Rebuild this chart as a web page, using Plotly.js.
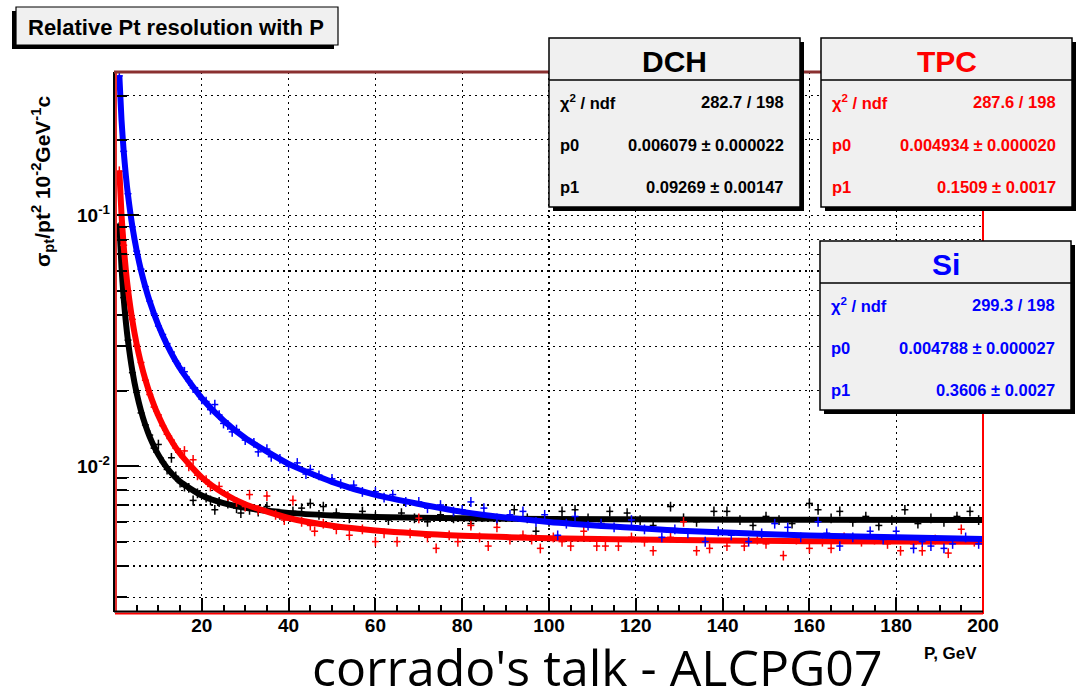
<!DOCTYPE html>
<html>
<head>
<meta charset="utf-8">
<script src="https://cdn.plot.ly/plotly-3.0.1.min.js"></script>
<style>html,body{margin:0;padding:0;background:#fff;}#chart{width:1081px;height:695px;}</style>
</head>
<body>
<div id="chart"></div>
<script>
// ---------------- DATA ----------------
// Fit curves
const fitP   = [1, 1.5, 2, 2.5, 3, 4, 5, 6, 7, 8, 10, 12, 15, 20, 25, 30, 40, 50, 60, 80, 100, 130, 160, 200];
const fitDCH = [0.0929, 0.0621, 0.04675, 0.03757, 0.0315, 0.02396, 0.01951, 0.0166, 0.01457, 0.01309, 0.01109, 0.00983, 0.00867, 0.00764, 0.00712, 0.00682, 0.00651, 0.00636, 0.00627, 0.00619, 0.00615, 0.00612, 0.00611, 0.0061];
const fitTPC = [0.151, 0.1007, 0.07561, 0.06056, 0.05054, 0.03805, 0.03058, 0.02563, 0.02212, 0.0195, 0.01587, 0.01351, 0.0112, 0.00901, 0.0078, 0.00705, 0.00621, 0.00578, 0.00554, 0.00528, 0.00516, 0.00507, 0.00502, 0.00499];
const fitSi  = [0.3606, 0.2404, 0.1804, 0.1443, 0.1203, 0.09028, 0.07228, 0.06029, 0.05174, 0.04533, 0.03638, 0.03043, 0.02451, 0.01866, 0.0152, 0.01294, 0.01021, 0.00866, 0.00768, 0.00657, 0.00599, 0.00553, 0.00529, 0.00512];

// Measured points (P in GeV, relative resolution)
const dchP = [1,2,3,4,5,6,7,8,9,10,11,12,13,14,15,16,17,18,19,21,22,23,24,26,28,29,31,33,35,38,41,43,45,47,48,51,54,57,60,63,66,69,72,75,78,82,85,88,92,95,97,100,103,106,109,112,114,118,121,124,128,131,134,138,141,144,147,150,153,156,160,162,165,167,170,173,176,179,182,185,188,191,194,197,199];
const dchV = [0.090,0.047,0.0318,0.0236,0.0197,0.0163,0.0146,0.0133,0.0118,0.0122,0.0104,0.0097,0.0108,0.0091,0.0086,0.0083,0.0082,0.0073,0.0078,0.0075,0.0073,0.0067,0.0072,0.0071,0.0068,0.0065,0.0067,0.0066,0.0069,0.0064,0.0066,0.0068,0.0071,0.0064,0.0069,0.0065,0.0062,0.0066,0.0063,0.0061,0.0065,0.0062,0.0060,0.0064,0.0062,0.0059,0.0063,0.0061,0.0067,0.0062,0.0055,0.0060,0.0066,0.0067,0.0062,0.0059,0.0066,0.0065,0.0061,0.0058,0.0069,0.0062,0.0060,0.0066,0.0066,0.0061,0.0058,0.0063,0.0061,0.0059,0.0071,0.0067,0.0062,0.0066,0.0060,0.0063,0.0058,0.0061,0.0067,0.0059,0.0062,0.0060,0.0063,0.0066,0.0061];

const tpcP = [1,2,3,4,5,6,7,8,9,10,11,12,13,14,15,16,17,18,19,21,22,24,26,28,30,31,33,35,37,39,41,43,45,46,48,51,54,57,60,62,65,68,70,72,74,77,79,82,84,86,88,91,94,96,98,101,103,105,108,111,113,116,119,122,124,128,131,134,137,141,145,148,150,154,157,160,163,165,168,172,175,178,181,184,186,189,192,195,198];
const tpcV = [0.150,0.076,0.050,0.0385,0.0303,0.0259,0.0220,0.0193,0.0172,0.0160,0.0145,0.0134,0.0127,0.0118,0.0113,0.0115,0.0100,0.0106,0.0092,0.0088,0.0083,0.0083,0.0076,0.0072,0.0069,0.0077,0.0067,0.0076,0.0064,0.0061,0.0073,0.0060,0.0058,0.0055,0.0059,0.0056,0.0053,0.0056,0.0050,0.0054,0.0050,0.0054,0.0062,0.0052,0.0047,0.0053,0.0050,0.0058,0.0052,0.0048,0.0057,0.0051,0.0053,0.0051,0.0047,0.0052,0.0050,0.0048,0.0055,0.0048,0.0048,0.0048,0.0052,0.0050,0.0046,0.0052,0.0060,0.0046,0.0047,0.0048,0.0048,0.0051,0.0049,0.0044,0.0051,0.0047,0.0050,0.0047,0.0052,0.0050,0.0051,0.0049,0.0046,0.0049,0.0046,0.0051,0.0045,0.0056,0.0050];

const siP = [1,2,3,4,5,6,7,8,9,10,11,12,13,14,15,16,17,18,19,20,21,22,23,24,25,26,27,28,30,32,33,35,36,38,40,42,44,45,47,50,52,55,57,60,62,64,67,70,72,75,78,80,82,85,88,91,94,97,99,102,104,106,109,112,115,119,122,126,129,132,136,139,142,146,149,152,155,158,162,164,167,170,174,177,180,184,186,188,191,193,196,199];
const siV = [0.360,0.180,0.122,0.090,0.072,0.061,0.052,0.0455,0.0405,0.0362,0.0335,0.0308,0.0285,0.0262,0.0247,0.0238,0.0219,0.0205,0.0198,0.0185,0.0181,0.0168,0.0176,0.0160,0.0148,0.0146,0.0137,0.0140,0.0127,0.0124,0.0114,0.0117,0.0109,0.0107,0.0100,0.0103,0.0093,0.0097,0.0092,0.0089,0.0085,0.0084,0.0079,0.0079,0.0075,0.0077,0.0072,0.0072,0.0068,0.0070,0.0066,0.0067,0.0072,0.0068,0.0062,0.0064,0.0066,0.0060,0.0064,0.0053,0.0059,0.0063,0.0058,0.0059,0.0057,0.0061,0.0056,0.0052,0.0056,0.0054,0.0050,0.0055,0.0053,0.0050,0.0054,0.0059,0.0057,0.0052,0.0060,0.0054,0.0048,0.0052,0.0055,0.0051,0.0055,0.0047,0.0050,0.0048,0.0047,0.0049,0.0052,0.0049];

// Tick labels
const xTickVals = [20, 40, 60, 80, 100, 120, 140, 160, 180, 200];
const yTickVals = [0.01, 0.1];
const yTickText = ['10<sup>-2</sup>', '10<sup>-1</sup>'];
const yMinorVals = [0.003,0.004,0.005,0.006,0.007,0.008,0.009,0.02,0.03,0.04,0.05,0.06,0.07,0.08,0.09,0.2,0.3];

// Stats boxes
const boxNames  = ['DCH', 'TPC', 'Si'];
const boxChi2   = ['282.7 / 198', '287.6 / 198', '299.3 / 198'];
const boxP0     = ['0.006079 ± 0.000022', '0.004934 ± 0.000020', '0.004788 ± 0.000027'];
const boxP1     = ['0.09269 ± 0.00147', '0.1509 ± 0.0017', '0.3606 ± 0.0027'];
const boxColors = ['#000000', '#ff0000', '#0000ff'];

// ---------------- LAYOUT HELPERS ----------------
const L = 115, R = 983, T = 72, B = 612;
const px = x => (x - L) / (R - L);
const py = y => (B - y) / (B - T);
const FB = 'Liberation Sans, Arial, Helvetica, sans-serif';

function ptsTrace(P, V, color) {
  return {
    x: P, y: V, type: 'scatter', mode: 'markers', showlegend: false, hoverinfo: 'skip',
    marker: {size: 2, color: color},
    error_y: {type: 'percent', value: 4.5, color: color, thickness: 1.5, width: 0},
    error_x: {type: 'constant', value: 0.8, color: color, thickness: 1.5, width: 0}
  };
}
function fitTrace(P, V, color) {
  return {
    x: P, y: V, type: 'scatter', mode: 'lines', showlegend: false, hoverinfo: 'skip',
    line: {color: color, width: 6, shape: 'spline', smoothing: 0.6}
  };
}

const traces = [
  ptsTrace(dchP, dchV, '#000000'), fitTrace(fitP, fitDCH, '#000000'),
  ptsTrace(tpcP, tpcV, '#ff0000'), fitTrace(fitP, fitTPC, '#ff0000'),
  ptsTrace(siP, siV, '#0000ff'),   fitTrace(fitP, fitSi, '#0000ff')
];

const shapes = [];
const annotations = [];
function rectPx(x0, y0, x1, y1, fill, lineColor, lw) {
  shapes.push({type: 'rect', xref: 'paper', yref: 'paper', layer: 'above',
    x0: px(x0), x1: px(x1), y0: py(y1), y1: py(y0),
    fillcolor: fill, line: {color: lineColor, width: lw}});
}
function linePx(x0, y0, x1, y1, color, lw) {
  shapes.push({type: 'line', xref: 'paper', yref: 'paper', layer: 'above',
    x0: px(x0), x1: px(x1), y0: py(y0), y1: py(y1), line: {color: color, width: lw}});
}
function textPx(x, y, text, size, color, xanchor, extra) {
  annotations.push(Object.assign({xref: 'paper', yref: 'paper', x: px(x), y: py(y), text: text,
    showarrow: false, xanchor: xanchor, yanchor: 'middle',
    font: {family: FB, size: size, color: color, weight: 'bold'}}, extra || {}));
}

// frame
linePx(L, B + 1.5, R, B + 1.5, '#ff0000', 2);
linePx(R, T, R, B + 2, '#ff0000', 2);
linePx(L + 1, T, L + 1, B, '#e03030', 2);
linePx(L - 1, T, L - 1, B, '#000000', 2);
linePx(L - 1, B - 0.5, R, B - 0.5, '#000000', 2);
linePx(L - 1, T, R, T, '#8a3030', 3);

// title box
rectPx(12, 11, 334, 49, '#000000', '#000000', 0);
rectPx(16, 7, 338, 45, '#f0f0f0', '#000000', 1.2);
textPx(176, 27, 'Relative Pt resolution with P', 22, '#000000', 'center');

// stats boxes
const boxPos = [[549, 38], [821, 38], [820, 241]];
for (let i = 0; i < 3; i++) {
  const [bx, by] = boxPos[i];
  const w = 251, h = 169, c = boxColors[i];
  rectPx(bx + 4, by + 4, bx + w + 4, by + h + 4, '#000000', '#000000', 0);
  rectPx(bx, by, bx + w, by + h, '#f0f0f0', '#000000', 1.5);
  linePx(bx, by + 42, bx + w, by + 42, '#000000', 1.5);
  textPx(bx + w / 2, by + 23, boxNames[i], 30, c, 'center');
  const labels = ['χ<sup>2</sup> / ndf', 'p0', 'p1'];
  const vals = [boxChi2[i], boxP0[i], boxP1[i]];
  for (let r = 0; r < 3; r++) {
    const ry = by + 64 + r * 42.5;
    textPx(bx + 9, ry, labels[r], 16.5, c, 'left');
    textPx(bx + 237, ry, vals[r], 16.5, c, 'right');
  }
}

// axis titles
textPx(42, 182, 'σ<sub>pt</sub>/pt<sup>2</sup> 10<sup>-2</sup>GeV<sup>-1</sup>c', 21, '#000000', 'center', {textangle: -90});
textPx(950, 653, 'P, GeV', 17, '#000000', 'center');

// footer
annotations.push({xref: 'paper', yref: 'paper', x: px(597), y: py(667), text: "corrado's talk - ALCPG07",
  showarrow: false, xanchor: 'center', yanchor: 'middle',
  font: {family: 'Open Sans, Noto Sans, DejaVu Sans, sans-serif', size: 50, color: '#000000'}});

const gridDash = '2px,4px';
const layout = {
  width: 1081, height: 695,
  margin: {l: L, r: 1081 - R, t: T, b: 695 - B, pad: 0},
  paper_bgcolor: '#ffffff', plot_bgcolor: '#ffffff',
  showlegend: false,
  xaxis: {
    range: [0, 200], tickmode: 'array', tickvals: xTickVals,
    ticks: 'inside', ticklen: 14, tickwidth: 2, tickcolor: '#000000',
    showgrid: true, gridcolor: '#000000', gridwidth: 1.2, griddash: gridDash,
    showline: false, zeroline: false,
    tickfont: {family: FB, size: 19, color: '#000000', weight: 'bold'},
    minor: {dtick: 5, tick0: 0, ticks: 'inside', ticklen: 7, tickwidth: 2, tickcolor: '#000000', showgrid: false}
  },
  yaxis: {
    type: 'log', range: [Math.log10(0.00262), Math.log10(0.373)],
    tickmode: 'array', tickvals: yTickVals, ticktext: yTickText,
    ticks: 'inside', ticklen: 24, tickwidth: 2, tickcolor: '#000000',
    showgrid: true, gridcolor: '#000000', gridwidth: 1.2, griddash: gridDash,
    showline: false, zeroline: false,
    tickfont: {family: FB, size: 19, color: '#000000', weight: 'bold'},
    ticklabelstandoff: 4,
    minor: {tickmode: 'array', tickvals: yMinorVals, ticks: 'inside', ticklen: 12, tickwidth: 2, tickcolor: '#000000',
      showgrid: true, gridcolor: '#000000', gridwidth: 1.2, griddash: gridDash}
  },
  shapes: shapes,
  annotations: annotations
};

Plotly.newPlot('chart', traces, layout, {displayModeBar: false, staticPlot: true});
</script>
</body>
</html>
